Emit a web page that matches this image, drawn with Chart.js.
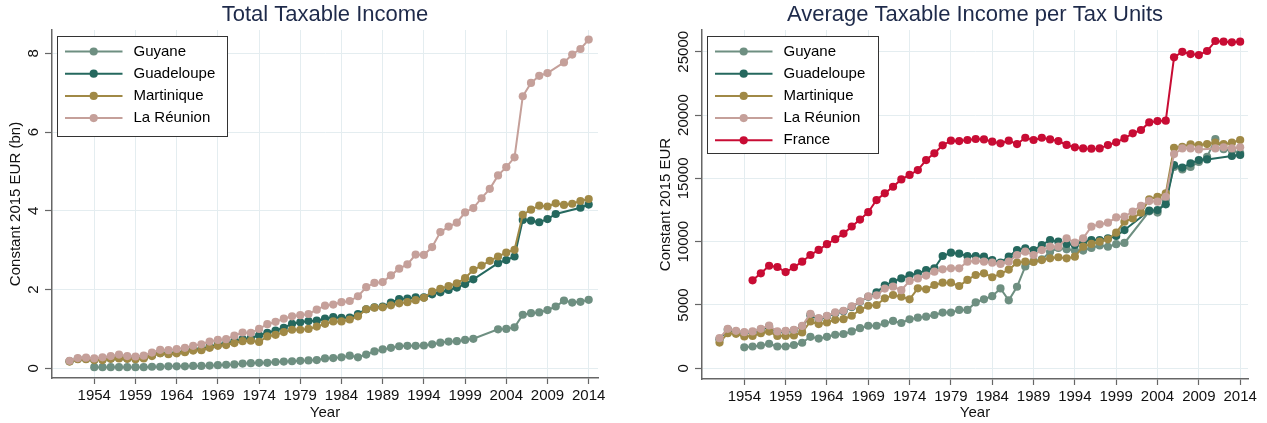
<!DOCTYPE html>
<html>
<head>
<meta charset="utf-8">
<script src="https://cdn.jsdelivr.net/npm/chart.js@4.4.1/dist/chart.umd.min.js"></script>
<style>
  body { margin: 0; background: #fff; }
  #wrap { position: relative; width: 1267px; height: 423px; }
  .panel { position: absolute; top: 0; height: 423px; }
</style>
</head>
<body>
<div id="wrap">
  <div class="panel" style="left:0;width:633px"><canvas id="totalChart"></canvas></div>
  <div class="panel" style="left:633px;width:634px"><canvas id="avgChart"></canvas></div>
</div>
<script>
const years = [
  1951, 1952, 1953, 1954, 1955, 1956, 1957, 1958, 1959, 1960,
  1961, 1962, 1963, 1964, 1965, 1966, 1967, 1968, 1969, 1970,
  1971, 1972, 1973, 1974, 1975, 1976, 1977, 1978, 1979, 1980,
  1981, 1982, 1983, 1984, 1985, 1986, 1987, 1988, 1989, 1990,
  1991, 1992, 1993, 1994, 1995, 1996, 1997, 1998, 1999, 2000,
  2001, 2002, 2003, 2004, 2005, 2006, 2007, 2008, 2009, 2010,
  2011, 2012, 2013, 2014
];
const yearTicks = [1954, 1959, 1964, 1969, 1974, 1979, 1984, 1989, 1994, 1999, 2004, 2009, 2014];

// total taxable income, bn EUR 2015
const totGuyane = [
  null, null, null, 0.03, 0.03, 0.03, 0.03, 0.03, 0.03, 0.03,
  0.04, 0.04, 0.05, 0.05, 0.05, 0.06, 0.06, 0.07, 0.08, 0.09,
  0.10, 0.12, 0.13, 0.14, 0.14, 0.16, 0.17, 0.18, 0.19, 0.20,
  0.21, 0.25, 0.26, 0.28, 0.32, 0.28, 0.35, 0.43, 0.48, 0.52,
  0.56, 0.57, 0.57, 0.58, 0.61, 0.65, 0.68, 0.69, 0.72, 0.75,
  null, null, 0.99, 1.00, 1.04, 1.36, 1.40, 1.42, 1.48, 1.57,
  1.72, 1.67, 1.69, 1.74
];
const totGuadeloupe = [
  0.18, 0.24, 0.24, 0.22, 0.23, 0.25, 0.27, 0.25, 0.25, 0.27,
  0.33, 0.39, 0.38, 0.40, 0.43, 0.47, 0.49, 0.55, 0.60, 0.63,
  0.69, 0.74, 0.77, 0.84, 0.90, 0.96, 1.03, 1.13, 1.17, 1.20,
  1.21, 1.26, 1.30, 1.28, 1.29, 1.38, 1.50, 1.55, 1.57, 1.67,
  1.76, 1.77, 1.80, 1.80, 1.88, 1.93, 1.99, 2.05, 2.14, 2.26,
  null, null, 2.67, 2.75, 2.84, 3.77, 3.75, 3.71, 3.79, 3.92,
  null, null, 4.08, 4.16
];
const totMartinique = [
  0.17, 0.23, 0.23, 0.21, 0.21, 0.24, 0.25, 0.24, 0.23, 0.25,
  0.31, 0.38, 0.36, 0.38, 0.41, 0.45, 0.46, 0.52, 0.57, 0.59,
  0.64, 0.69, 0.70, 0.67, 0.81, 0.85, 0.92, 0.98, 0.98, 1.00,
  1.06, 1.13, 1.19, 1.19, 1.24, 1.32, 1.50, 1.54, 1.55, 1.60,
  1.65, 1.68, 1.73, 1.79, 1.95, 2.02, 2.09, 2.16, 2.29, 2.50,
  2.61, 2.73, 2.84, 2.94, 3.01, 3.90, 4.03, 4.13, 4.11, 4.19,
  4.15, 4.18, 4.25, 4.30
];
const totReunion = [
  0.19, 0.26, 0.27, 0.25, 0.28, 0.31, 0.35, 0.31, 0.30, 0.32,
  0.40, 0.47, 0.46, 0.49, 0.52, 0.57, 0.61, 0.68, 0.72, 0.74,
  0.83, 0.91, 0.90, 1.00, 1.12, 1.18, 1.26, 1.32, 1.35, 1.38,
  1.49, 1.59, 1.62, 1.68, 1.71, 1.83, 2.06, 2.17, 2.19, 2.36,
  2.53, 2.64, 2.89, 2.88, 3.08, 3.46, 3.60, 3.70, 3.96, 4.07,
  4.32, 4.56, 4.90, 5.11, 5.36, 6.91, 7.25, 7.43, 7.50, null,
  7.77, 7.97, 8.11, 8.35
];
const totTicks = [0, 2, 4, 6, 8];

// average taxable income per tax unit, EUR 2015
const avgGuyane = [
  null, null, null, 1660, 1720, 1800, 1940, 1720, 1720, 1840,
  2020, 2490, 2350, 2490, 2650, 2710, 2910, 3170, 3360, 3360,
  3550, 3740, 3580, 3870, 4000, 4080, 4210, 4400, 4400, 4610,
  4610, 5200, 5450, 5700, 6310, 5370, 6440, 8050, 8450, 8600,
  9200, 9500, 9400, 9300, 9300, 9500, 9700, 9600, 9800, 9900,
  null, null, 12400, 12300, 13300, 15900, 15700, 15900, 16300, 16700,
  18100, 17300, 17200, 17000
];
const avgGuadeloupe = [
  2300, 3050, 2900, 2800, 2850, 3050, 3300, 2850, 2900, 3000,
  3300, 4200, 3900, 4100, 4350, 4500, 4850, 5250, 5650, 6000,
  6550, 6850, 7100, 7350, 7500, 7750, 7900, 8870, 9130, 9050,
  8870, 8870, 8820, 8550, 8350, 8820, 9340, 9480, 9340, 9740,
  10130, 10000, 9820, 9740, 10000, 10130, 10130, 10270, 10450, 10920,
  null, null, 12450, 12500, 12950, 16050, 15850, 16190, 16450, 16500,
  null, null, 16770, 16850
];
const avgMartinique = [
  2030, 2770, 2720, 2510, 2560, 2770, 2900, 2560, 2560, 2590,
  2830, 3700, 3490, 3620, 3830, 3880, 4150, 4620, 4940, 5000,
  5530, 5790, 5660, 5450, 6320, 6240, 6580, 6760, 6760, 6500,
  6980, 7370, 7500, 7190, 7460, 7800, 8340, 8420, 8400, 8550,
  8690, 8770, 8690, 8820, 9610, 9820, 10000, 10190, 10710, 11580,
  11840, 12290, 13340, 13550, 13820, 17420, 17500, 17690, 17630, 17710,
  17820, 17710, 17820, 18030
];
const avgReunion = [
  2380, 3120, 2960, 2850, 2910, 3120, 3380, 2910, 2960, 3040,
  3350, 4300, 3960, 4150, 4410, 4540, 4890, 5280, 5680, 5760,
  6300, 6450, 6170, 6900, 7100, 7320, 7630, 7820, 7900, 7900,
  8420, 8500, 8420, 8340, 8240, 8420, 8950, 9210, 8950, 9340,
  9610, 9610, 10270, 9920, 10270, 11190, 11370, 11500, 11920, 11980,
  12370, 12840, 13210, 13160, 13550, 16920, 17370, 17370, 17290, null,
  17370, 17450, 17370, 17450
];
const avgFrance = [
  null, null, null, null, 6950, 7500, 8100, 8000, 7600, 7980,
  8420, 8950, 9350, 9800, 10200, 10640, 11200, 11750, 12330, 13290,
  13820, 14340, 14920, 15270, 15660, 16450, 16980, 17610, 17980, 17950,
  18030, 18110, 18080, 17900, 17770, 17980, 17710, 18210, 18030, 18210,
  18080, 17950, 17640, 17450, 17370, 17350, 17370, 17630, 17850, 18160,
  18560, 18820, 19420, 19530, 19560, 24560, 25000, 24820, 24740, 25060,
  25850, 25800, 25750, 25800
];
const avgTicks = [0, 5000, 10000, 15000, 20000, 25000];

const COLORS = {
  guyane: '#6e8f81',
  guadeloupe: '#25685e',
  martinique: '#a08946',
  reunion: '#c5a09a',
  france: '#c80c34'
};
const FONT = '"Liberation Sans", Arial, sans-serif';
const MARKER = 4.1;
Chart.defaults.font.family = FONT;
Chart.defaults.color = '#111';

function series(label, values, color, order) {
  return {
    label: label,
    order: order,
    data: years.map((yr, i) => ({ x: yr, y: values[i] })),
    borderColor: color,
    backgroundColor: color,
    borderWidth: 2,
    pointRadius: MARKER,
    pointHoverRadius: MARKER,
    pointBorderWidth: 0,
    tension: 0,
    spanGaps: true
  };
}

// rotated y tick labels and the boxed legend inside the plot
const decor = {
  id: 'decor',
  afterDraw(chart, args, opts) {
    const { ctx, chartArea, scales } = chart;
    ctx.save();
    ctx.font = '15px ' + FONT;
    ctx.fillStyle = '#111';
    ctx.textAlign = 'center';
    ctx.textBaseline = 'middle';
    scales.y.ticks.forEach(t => {
      const py = scales.y.getPixelForValue(t.value);
      ctx.save();
      ctx.translate(chartArea.left - opts.labelGap, py);
      ctx.rotate(-Math.PI / 2);
      ctx.fillText(String(t.value), 0, 0);
      ctx.restore();
    });

    const b = opts.box;
    const bx = Math.round(chartArea.left + b.x) + 0.5;
    const by = Math.round(chartArea.top + b.y) + 0.5;
    ctx.fillStyle = '#fff';
    ctx.fillRect(bx, by, b.w, b.h);
    ctx.strokeStyle = '#333';
    ctx.lineWidth = 1;
    ctx.strokeRect(bx, by, b.w, b.h);
    ctx.textAlign = 'left';
    chart.data.datasets.forEach((ds, i) => {
      const ry = by + 15 + i * 22.2;
      ctx.strokeStyle = ds.borderColor;
      ctx.lineWidth = 2;
      ctx.beginPath();
      ctx.moveTo(bx + 7.5, ry);
      ctx.lineTo(bx + 65, ry);
      ctx.stroke();
      ctx.fillStyle = ds.borderColor;
      ctx.beginPath();
      ctx.arc(bx + 36.2, ry, MARKER, 0, Math.PI * 2);
      ctx.fill();
      ctx.fillStyle = '#000';
      ctx.fillText(ds.label, bx + 76, ry);
    });
    ctx.restore();
  }
};

function makeChart(id, cfg) {
  return new Chart(document.getElementById(id), {
    type: 'line',
    data: { datasets: cfg.datasets },
    plugins: [decor],
    options: {
      responsive: true,
      maintainAspectRatio: false,
      animation: false,
      devicePixelRatio: 1,
      events: [],
      layout: { padding: { left: 0, right: cfg.padRight, top: 0, bottom: 0 } },
      plugins: {
        legend: { display: false },
        tooltip: { enabled: false },
        title: {
          display: true,
          text: cfg.title,
          fullSize: false,
          color: '#1e2a4a',
          font: { size: 22, weight: 'normal', lineHeight: 1.2 },
          padding: { top: 1.5, bottom: 2.1 }
        },
        decor: { box: cfg.box, labelGap: 18.5 }
      },
      scales: {
        x: {
          type: 'linear',
          min: cfg.xMin,
          max: cfg.xMax,
          afterBuildTicks: s => { s.ticks = yearTicks.map(v => ({ value: v })); },
          afterFit: s => { s.height = cfg.xHeight; s.paddingLeft = 0; s.paddingRight = 0; },
          ticks: { callback: v => String(v), font: { size: 15 }, color: '#111', padding: 3, maxRotation: 0, autoSkip: false },
          grid: { color: '#e4edf0', lineWidth: 1, tickLength: 6, tickColor: '#666', tickWidth: 1.2 },
          border: { color: '#666', width: 1.5 },
          title: { display: true, text: 'Year', font: { size: 15 }, color: '#111', padding: { top: 0, bottom: 1.5 } }
        },
        y: {
          type: 'linear',
          min: cfg.yMin,
          max: cfg.yMax,
          afterBuildTicks: s => { s.ticks = cfg.yTicks.map(v => ({ value: v })); },
          afterFit: s => { s.width = cfg.yWidth; s.paddingTop = 0; s.paddingBottom = 0; },
          ticks: { display: false },
          grid: { color: '#e4edf0', lineWidth: 1, tickLength: 7, tickColor: '#666', tickWidth: 1.2 },
          border: { color: '#666', width: 1.5 },
          title: { display: true, text: cfg.yTitle, font: { size: 15 }, color: '#111', padding: { top: cfg.yTitlePad, bottom: 0 } }
        }
      }
    }
  });
}

makeChart('totalChart', {
  title: 'Total Taxable Income',
  yTitle: 'Constant 2015 EUR (bn)',
  datasets: [
    series('Guyane', totGuyane, COLORS.guyane, 5),
    series('Guadeloupe', totGuadeloupe, COLORS.guadeloupe, 4),
    series('Martinique', totMartinique, COLORS.martinique, 3),
    series('La Réunion', totReunion, COLORS.reunion, 2)
  ],
  xMin: 1948.87, xMax: 2015.13,
  yMin: -0.246, yMax: 8.593,
  yTicks: totTicks,
  yWidth: 52, xHeight: 45, padRight: 35, yTitlePad: 7,
  box: { x: 5, y: 6, w: 170, h: 100 }
});

makeChart('avgChart', {
  title: 'Average Taxable Income per Tax Units',
  yTitle: 'Constant 2015 EUR',
  datasets: [
    series('Guyane', avgGuyane, COLORS.guyane, 5),
    series('Guadeloupe', avgGuadeloupe, COLORS.guadeloupe, 4),
    series('Martinique', avgMartinique, COLORS.martinique, 3),
    series('La Réunion', avgReunion, COLORS.reunion, 2),
    series('France', avgFrance, COLORS.france, 1)
  ],
  xMin: 1948.88, xMax: 2014.95,
  yMin: -845, yMax: 26720,
  yTicks: avgTicks,
  yWidth: 69, xHeight: 44, padRight: 19, yTitlePad: 24,
  box: { x: 5, y: 6, w: 171, h: 117 }
});
</script>
</body>
</html>
